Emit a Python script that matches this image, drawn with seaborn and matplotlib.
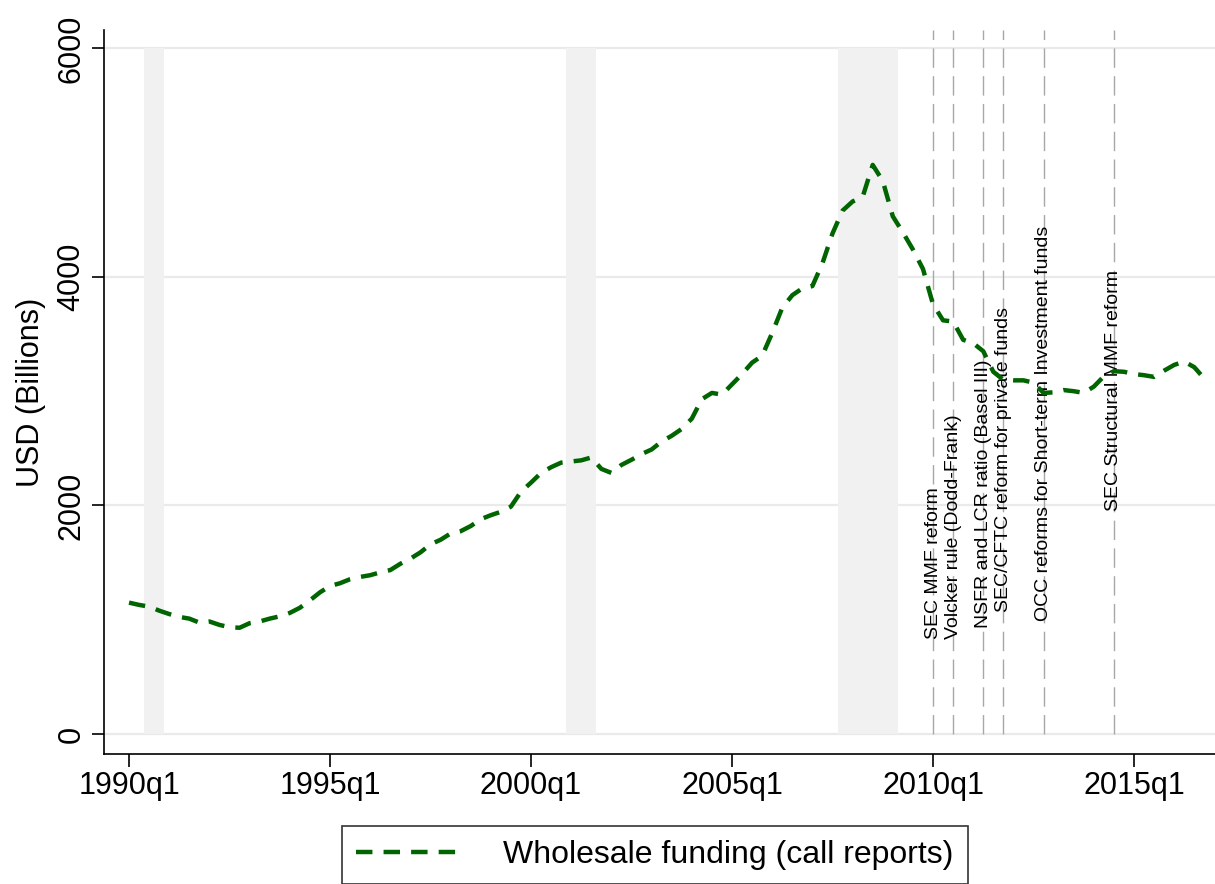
import numpy as np
import pandas as pd
import matplotlib
matplotlib.use("Agg")
import matplotlib.pyplot as plt
import seaborn as sns

# quarterly wholesale funding, USD billions, 1990q1 .. 2016q4
funding = [
    1150, 1130, 1115, 1080, 1050, 1025, 1010, 975, 985, 955,
    935, 930, 970, 985, 1010, 1030, 1060, 1105, 1170, 1240,
    1295, 1320, 1355, 1375, 1390, 1415, 1435, 1490, 1535, 1590,
    1660, 1700, 1755, 1775, 1820, 1880, 1915, 1945, 1990, 2120,
    2200, 2285, 2335, 2375, 2385, 2395, 2420, 2320, 2285, 2355,
    2400, 2450, 2490, 2560, 2610, 2670, 2760, 2930, 2985, 2970,
    3060, 3150, 3250, 3310, 3510, 3730, 3840, 3900, 3920, 4120,
    4380, 4580, 4660, 4700, 4980, 4840, 4530, 4390, 4240, 4070,
    3760, 3620, 3610, 3450, 3420, 3350, 3170, 3100, 3095, 3095,
    3075, 2985, 2990, 3010, 3000, 2985, 3040, 3130, 3175, 3170,
    3150, 3140, 3125, 3180, 3230, 3260, 3210, 3110,
]
quarter = list(range(len(funding)))   # 0 = 1990q1

tick_pos = [0, 20, 40, 60, 80, 100]
tick_labels = ["1990q1", "1995q1", "2000q1", "2005q1", "2010q1", "2015q1"]
y_ticks = [0, 2000, 4000, 6000]

# recession shading (quarter index bounds)
recessions = [(1.5, 3.5), (43.5, 46.5), (70.5, 76.5)]

# regulatory events: quarter index, label, label start height
event_q = [80, 82, 85, 87, 91, 98]
event_text = [
    "SEC MMF reform",
    "Volcker rule (Dodd-Frank)",
    "NSFR and LCR ratio (Basel III)",
    "SEC/CFTC reform for private funds",
    "OCC reforms for Short-term Investment funds",
    "SEC Structural MMF reform",
]
event_y = [830, 830, 930, 1070, 985, 1950]

df = pd.DataFrame({"quarter": quarter, "funding": funding})

sns.set_theme(style="white")
plt.rcParams["font.family"] = ["Liberation Sans", "DejaVu Sans"]
plt.rcParams["text.color"] = "black"
plt.rcParams["axes.labelcolor"] = "black"
plt.rcParams["xtick.color"] = "black"
plt.rcParams["ytick.color"] = "black"

fig = plt.figure(figsize=(12.15, 8.84), dpi=100)
ax = fig.add_axes([0.0856, 0.147, 0.9144, 0.819])

for y in y_ticks:
    ax.axhline(y, color="#eaeaea", lw=1.6, zorder=0)

for a, b in recessions:
    ax.fill_between([a, b], 0, 6000, color="#f1f1f1", lw=0, zorder=1)

for q in event_q:
    ax.vlines(q, 0, 6160, colors="#a8a8a8", lw=1.0,
              linestyles=(0, (14, 6)), zorder=2)

for q, t, y in zip(event_q, event_text, event_y):
    ax.text(q, y, t, rotation=90, ha="center", va="bottom",
            fontsize=14, color="black", zorder=3)

sns.lineplot(data=df, x="quarter", y="funding", ax=ax, color="#006400",
             linewidth=3.2, linestyle=(0, (3.7, 2.5)), zorder=4,
             label="Wholesale funding (call reports)")

ax.set_xlim(-2.49, 108.06)
ax.set_ylim(-175, 6160)
ax.set_xticks(tick_pos)
ax.set_xticklabels(tick_labels)
ax.set_yticks(y_ticks)
ax.set_yticklabels([str(v) for v in y_ticks], rotation=90, va="center")
ax.tick_params(axis="both", labelsize=22, length=9, width=1.2,
               color="black", labelcolor="black", direction="out",
               left=True, bottom=True)
ax.set_xlabel("")
ax.set_ylabel("USD (Billions)", fontsize=22, labelpad=8, color="black")

for side in ["top", "right"]:
    ax.spines[side].set_visible(False)
for side in ["left", "bottom"]:
    ax.spines[side].set_color("black")
    ax.spines[side].set_linewidth(1.2)

leg = ax.legend(loc="upper center", bbox_to_anchor=(0.539, 0.066),
                bbox_transform=fig.transFigure, frameon=True, fancybox=False,
                fontsize=23, handlelength=3.3, handletextpad=1.3,
                borderpad=0.45, borderaxespad=0)
leg.get_frame().set_edgecolor("black")
leg.get_frame().set_linewidth(1.2)
for txt in leg.get_texts():
    txt.set_color("black")

fig.savefig("out.png", dpi=100)
